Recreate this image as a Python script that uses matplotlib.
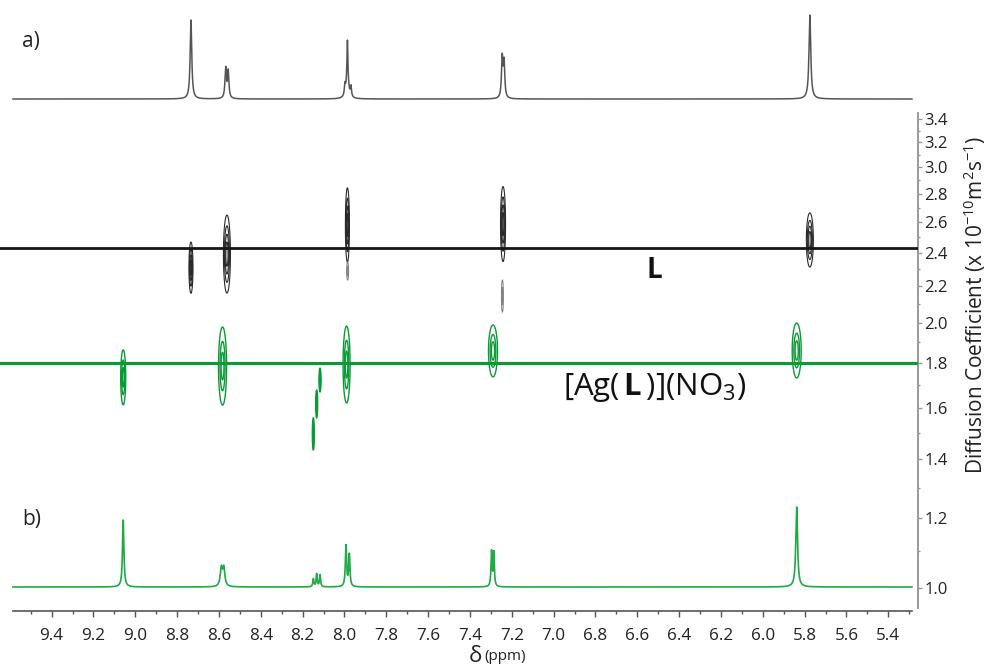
import numpy as np
import matplotlib
matplotlib.use("Agg")
import matplotlib.pyplot as plt
from matplotlib.ticker import FixedLocator, FixedFormatter, NullFormatter

plt.rcParams['font.family'] = ['Open Sans', 'DejaVu Sans']
plt.rcParams['mathtext.fontset'] = 'custom'
plt.rcParams['mathtext.rm'] = 'Open Sans'
plt.rcParams['mathtext.bf'] = 'Open Sans:bold'
plt.rcParams['mathtext.it'] = 'Open Sans:italic'

# ---------------- data ----------------
# 1H spectrum a) (free ligand L): peak positions (ppm), intensities, half-widths
a_ppm = [8.734, 8.568, 8.556, 7.998, 7.986, 7.986, 7.969, 7.246, 7.237, 5.775]
a_int = [79, 30, 27, 10, 40, 18, 10, 40, 35, 84]
a_hw = [0.0045, 0.004, 0.004, 0.003, 0.0025, 0.008, 0.003, 0.004, 0.004, 0.005]

# 1H spectrum b) ([Ag(L)](NO3))
b_ppm = [9.058, 8.589, 8.577, 8.149, 8.133, 8.117, 7.993, 7.977, 7.297, 7.286, 5.838]
b_int = [67, 18, 18, 8, 13, 12, 41, 32, 35, 34, 80]
b_hw = [0.004, 0.006, 0.006, 0.003, 0.003, 0.003, 0.0035, 0.0035, 0.003, 0.003, 0.005]

# DOSY cross peaks: ppm, D (1e-10 m2/s), sigma ppm, sigma log10(D), series
dosy_ppm = [8.734, 8.562, 7.986, 7.985, 7.242, 7.245, 5.775,
            9.058, 8.583, 7.990, 7.290, 5.838, 8.149, 8.133, 8.117]
dosy_D = [2.308, 2.391, 2.580, 2.288, 2.586, 2.143, 2.481,
          1.733, 1.785, 1.792, 1.857, 1.859, 1.495, 1.617, 1.721]
dosy_sppm = [0.0045, 0.0078, 0.0045, 0.0022, 0.0056, 0.0022, 0.0078,
             0.0056, 0.0090, 0.0078, 0.0100, 0.0100, 0.0022, 0.0022, 0.0022]
dosy_slog = [0.0135, 0.0206, 0.0196, 0.0048, 0.0198, 0.0085, 0.0143,
             0.0145, 0.0206, 0.0203, 0.0137, 0.0145, 0.0085, 0.0074, 0.0063]
dosy_series = ['L', 'L', 'L', 'Lw', 'L', 'Lw', 'L',
               'Ag', 'Ag', 'Ag', 'Ag', 'Ag', 'Ag', 'Ag', 'Ag']

D_L = 2.43
D_Ag = 1.80

x_ticks = [9.4, 9.2, 9.0, 8.8, 8.6, 8.4, 8.2, 8.0, 7.8, 7.6, 7.4, 7.2, 7.0,
           6.8, 6.6, 6.4, 6.2, 6.0, 5.8, 5.6, 5.4]
y_ticks = [1.0, 1.2, 1.4, 1.6, 1.8, 2.0, 2.2, 2.4, 2.6, 2.8, 3.0, 3.2, 3.4]
y_minor = [1.1, 1.3, 1.5, 1.7, 1.9, 2.1, 2.3, 2.5, 2.7, 2.9, 3.1, 3.3]

# ---------------- styling ----------------
black = '#161616'
green = '#0a9a34'
green_spec = '#1eaa44'
colors = {'L': '#2a2a2a', 'Lw': '#808080', 'Ag': green}

W, H = 987, 667
fig = plt.figure(figsize=(W / 100, H / 100), dpi=100)

XL, XR = 9.647, 5.258          # x data limits of main axes (pixel 0 .. 918)
XS0, XS1 = 9.585, 5.287        # drawn spectral range
ax_left, ax_right = 0 / W, 918 / W


def frac_y(px):
    return 1 - px / H


ax = fig.add_axes([ax_left, frac_y(611), ax_right - ax_left, (611 - 113) / H])
ax.set_xlim(XL, XR)
ax.set_yscale('log')
ax.set_ylim(0.9417, 3.456)

# DOSY contours
for p, d, sx, sl, s in zip(dosy_ppm, dosy_D, dosy_sppm, dosy_slog, dosy_series):
    xs = np.linspace(p - 4 * sx, p + 4 * sx, 160)
    ls = np.linspace(np.log10(d) - 4 * sl, np.log10(d) + 4 * sl, 160)
    X, Lg = np.meshgrid(xs, ls)
    Z = np.exp(-0.5 * ((X - p) / sx) ** 2 - 0.5 * ((Lg - np.log10(d)) / sl) ** 2)
    if s == 'Lw':
        levels, lw = [0.1, 0.5], 0.7
    elif s == 'L':
        levels, lw = [0.1, 0.3, 0.55, 0.8], 0.8
    else:
        levels, lw = [0.1, 0.4, 0.75], 1.0
    ax.contour(X, 10 ** Lg, Z, levels=levels, colors=colors[s], linewidths=lw)

ax.axhline(D_L, color=black, lw=2.0, zorder=3)
ax.axhline(D_Ag, color=green, lw=2.2, zorder=3)

# axes styling
for sp in ['top', 'left']:
    ax.spines[sp].set_visible(False)
ax.spines['bottom'].set_bounds(XS0, XS1)
ax.spines['bottom'].set_color('#555555')
ax.spines['bottom'].set_linewidth(1.2)
ax.spines['right'].set_color('#999999')
ax.spines['right'].set_linewidth(1.4)
ax.spines['right'].set_bounds(0.949, 3.455)

ax.xaxis.set_major_locator(FixedLocator(x_ticks))
ax.xaxis.set_major_formatter(FixedFormatter(['%.1f' % v for v in x_ticks]))
ax.xaxis.set_minor_locator(FixedLocator([v - 0.1 for v in x_ticks] + [9.5]))
ax.tick_params(axis='x', which='major', direction='out', length=4.5, width=1.0,
               color='#555555', labelsize=12.3, pad=8, labelcolor='#222222')
ax.tick_params(axis='x', which='minor', direction='out', length=2.5, width=1.0,
               color='#555555')

ax.yaxis.tick_right()
ax.yaxis.set_major_locator(FixedLocator(y_ticks))
ax.yaxis.set_major_formatter(FixedFormatter(['%.1f' % v for v in y_ticks]))
ax.yaxis.set_minor_locator(FixedLocator(y_minor))
ax.yaxis.set_minor_formatter(NullFormatter())
ax.tick_params(axis='y', which='major', direction='out', length=3, width=1.0,
               color='#999999', labelsize=12, pad=1.5, labelcolor='#222222')
ax.tick_params(axis='y', which='minor', direction='out', length=1.5, width=1.0,
               color='#999999')


def spectrum(ppm, pk, inten, hw):
    y = np.zeros_like(ppm)
    for p, h, w in zip(pk, inten, hw):
        y += h / (1 + ((ppm - p) / w) ** 2)
    return y


ppm = np.linspace(XS0, XS1, 12000)

# top spectrum a)
ax_a = fig.add_axes([ax_left, frac_y(105), ax_right - ax_left, 100 / H])
ax_a.set_xlim(XL, XR)
ax_a.set_ylim(-6, 94)
ax_a.plot(ppm, spectrum(ppm, a_ppm, a_int, a_hw), color='#555555', lw=1.1)
ax_a.axis('off')

# bottom spectrum b)
ax_b = fig.add_axes([ax_left, frac_y(611), ax_right - ax_left, 131 / H])
ax_b.set_xlim(XL, XR)
ax_b.set_ylim(-24, 107)
ax_b.plot(ppm, spectrum(ppm, b_ppm, b_int, b_hw), color=green_spec, lw=1.2)
ax_b.axis('off')

# texts
fig.text(22 / W, frac_y(42), 'a)', fontsize=15, ha='left', va='center', color='#222222')
fig.text(22 / W, frac_y(520), 'b)', fontsize=15, ha='left', va='center', color='#222222')
fig.text(654 / W, frac_y(271), 'L', fontsize=20, fontweight='bold', ha='center',
         va='center', color='#111111')
fig.text(655 / W, frac_y(388), r'[Ag($\,\mathbf{L}\,$)](NO$_3$)', fontsize=22.5,
         ha='center', va='center', color='#111111')
fig.text(975 / W, frac_y(305), r'Diffusion Coefficient (x 10$^{-10}$m$^{2}$s$^{-1}$)',
         rotation=90, fontsize=15, ha='center', va='center', color='#222222')
fig.text(482 / W, frac_y(657), 'δ', fontsize=16, ha='right', va='center', color='#222222')
fig.text(484 / W, frac_y(657), '(ppm)', fontsize=11, ha='left', va='center', color='#222222')

fig.savefig('out.png', dpi=100)
